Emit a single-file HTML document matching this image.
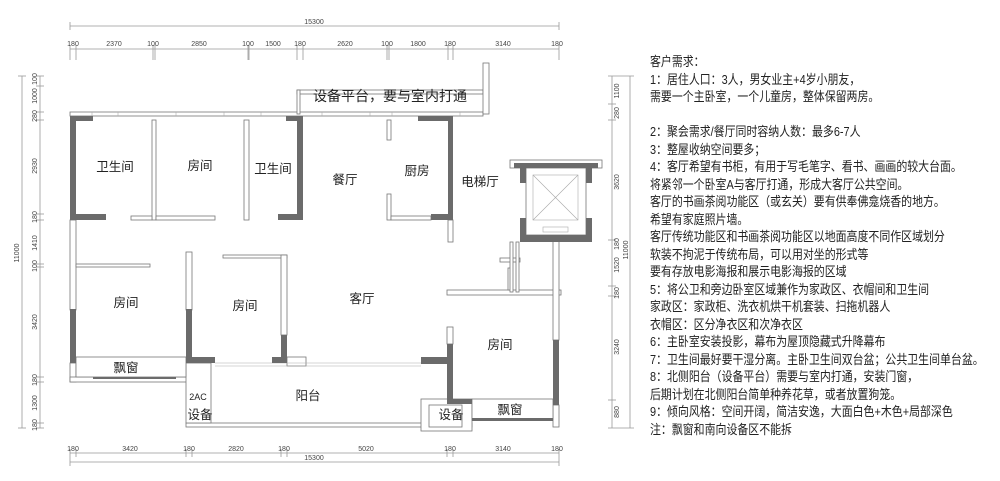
<!DOCTYPE html>
<html><head><meta charset="utf-8"><style>
body{margin:0;background:#fff;width:1000px;height:481px;overflow:hidden;position:relative;font-family:"Liberation Sans","Noto Sans CJK SC",sans-serif}
svg{position:absolute;left:0;top:0}
.t{position:absolute;left:650px;top:53px;font-size:13px;line-height:17.5px;color:#222;transform:scaleX(0.84);transform-origin:0 0;white-space:nowrap;font-family:"Liberation Sans","Noto Sans CJK SC",sans-serif}
</style></head><body>
<svg width="1000" height="481" viewBox="0 0 1000 481" font-family="Liberation Sans, Noto Sans CJK SC, sans-serif">
<g stroke="#999" stroke-width="0.8" fill="none">
<line x1="70" y1="26" x2="559" y2="26"/>
<line x1="70" y1="49" x2="559" y2="49"/>
<line x1="70" y1="453" x2="559" y2="453"/>
<line x1="70" y1="462" x2="559" y2="462"/>
<line x1="22" y1="76" x2="22" y2="428"/>
<line x1="40" y1="76" x2="40" y2="428"/>
<line x1="630" y1="76" x2="630" y2="428"/>
<line x1="612" y1="76" x2="612" y2="428"/>
</g>
<g stroke="#999" stroke-width="0.8">
<line x1="70" y1="22" x2="70" y2="30"/><line x1="559" y1="22" x2="559" y2="30"/>
<g><line x1="70" y1="45" x2="70" y2="60"/><line x1="76" y1="45" x2="76" y2="60"/><line x1="153" y1="45" x2="153" y2="60"/><line x1="155" y1="45" x2="155" y2="60"/><line x1="248" y1="45" x2="248" y2="60"/><line x1="249" y1="45" x2="249" y2="60"/><line x1="297" y1="45" x2="297" y2="60"/><line x1="303" y1="45" x2="303" y2="60"/><line x1="387" y1="45" x2="387" y2="60"/><line x1="389" y1="45" x2="389" y2="60"/><line x1="448" y1="45" x2="448" y2="60"/><line x1="453" y1="45" x2="453" y2="60"/><line x1="559" y1="45" x2="559" y2="60"/></g>
<line x1="70" y1="449" x2="70" y2="466"/><line x1="76" y1="449" x2="76" y2="457"/><line x1="186" y1="449" x2="186" y2="457"/><line x1="192" y1="449" x2="192" y2="457"/><line x1="281" y1="449" x2="281" y2="457"/><line x1="287" y1="449" x2="287" y2="457"/><line x1="447" y1="449" x2="447" y2="457"/><line x1="453" y1="449" x2="453" y2="457"/><line x1="559" y1="449" x2="559" y2="466"/>
<g><line x1="36" y1="76" x2="44" y2="76"/><line x1="36" y1="86" x2="44" y2="86"/><line x1="36" y1="112" x2="44" y2="112"/><line x1="36" y1="120" x2="44" y2="120"/><line x1="36" y1="214" x2="44" y2="214"/><line x1="36" y1="220" x2="44" y2="220"/><line x1="36" y1="264" x2="44" y2="264"/><line x1="36" y1="267" x2="44" y2="267"/><line x1="36" y1="377" x2="44" y2="377"/><line x1="36" y1="382" x2="44" y2="382"/><line x1="36" y1="423" x2="44" y2="423"/><line x1="36" y1="428" x2="44" y2="428"/><line x1="18" y1="76" x2="26" y2="76"/><line x1="18" y1="428" x2="26" y2="428"/></g>
<g><line x1="608" y1="76" x2="634" y2="76"/><line x1="608" y1="104" x2="616" y2="104"/><line x1="608" y1="120" x2="616" y2="120"/><line x1="608" y1="240" x2="616" y2="240"/><line x1="608" y1="286" x2="616" y2="286"/><line x1="608" y1="296" x2="616" y2="296"/><line x1="608" y1="400" x2="616" y2="400"/><line x1="608" y1="428" x2="634" y2="428"/></g>
</g>
<g font-size="7" fill="#444" text-anchor="middle">
<text x="314" y="24">15300</text>
<text x="73" y="46">180</text><text x="114" y="46">2370</text><text x="153" y="46">100</text><text x="199" y="46">2850</text><text x="248" y="46">100</text><text x="273" y="46">1500</text><text x="300" y="46">180</text><text x="345" y="46">2620</text><text x="387" y="46">100</text><text x="418" y="46">1800</text><text x="450" y="46">180</text><text x="503" y="46">3140</text><text x="557" y="46">180</text>
<text x="73" y="451">180</text><text x="130" y="451">3420</text><text x="189" y="451">180</text><text x="236" y="451">2820</text><text x="284" y="451">180</text><text x="366" y="451">5020</text><text x="450" y="451">180</text><text x="503" y="451">3140</text><text x="557" y="451">180</text>
<text x="314" y="460">15300</text>
<g transform="rotate(-90)">
<text x="-253" y="19">11000</text>
<text x="-79" y="37">100</text><text x="-96" y="37">1000</text><text x="-116" y="37">280</text><text x="-166" y="37">2930</text><text x="-217" y="37">180</text><text x="-243" y="37">1410</text><text x="-266" y="37">100</text><text x="-322" y="37">3420</text><text x="-380" y="37">180</text><text x="-403" y="37">1300</text><text x="-425" y="37">180</text>
<text x="-91" y="619">1100</text><text x="-113" y="619">280</text><text x="-182" y="619">3620</text><text x="-244" y="619">180</text><text x="-265" y="619">1520</text><text x="-293" y="619">180</text><text x="-347" y="619">3240</text><text x="-412" y="619">880</text>
<text x="-250" y="628">11000</text>
</g>
</g>
<g fill="#fff" stroke="#777" stroke-width="0.8">
<rect x="70" y="112" width="413" height="4"/>
<rect x="297" y="90" width="186" height="4"/>
<rect x="297" y="90" width="3" height="24"/>
<rect x="483" y="63" width="6" height="51"/>
<rect x="152" y="120" width="4" height="100"/>
<rect x="156" y="216" width="59" height="4"/>
<rect x="131" y="216" width="21" height="4"/>
<rect x="244" y="120" width="5" height="100"/>
<rect x="387" y="120" width="4" height="20"/>
<rect x="387" y="194" width="4" height="26"/>
<rect x="391" y="216" width="40" height="4"/>
<rect x="448" y="220" width="5" height="22"/>
<rect x="70" y="220" width="6" height="90"/>
<rect x="76" y="264" width="74" height="3"/>
<rect x="186" y="252" width="6" height="58"/>
<rect x="223" y="255" width="64" height="3"/>
<rect x="281" y="255" width="6" height="80"/>
<rect x="287" y="357" width="19" height="9"/>
<rect x="70" y="363" width="6" height="19"/>
<rect x="70" y="377" width="122" height="5"/>
<rect x="447" y="327" width="6" height="17"/>
<rect x="447" y="290" width="114" height="5"/>
<rect x="508" y="268" width="3" height="22"/>
<rect x="553" y="240" width="6" height="100"/>
<rect x="553" y="405" width="6" height="22"/>
<rect x="186" y="423" width="286" height="4"/>
<rect x="186" y="363" width="25" height="60"/>
<rect x="421" y="399" width="51" height="32"/>
<rect x="429" y="405" width="33" height="22"/>
<rect x="472" y="399" width="81" height="21"/>
<rect x="76" y="357" width="110" height="20"/>
<rect x="510" y="160" width="92" height="8"/>
<rect x="526" y="168" width="60" height="67"/>
<rect x="500" y="258" width="20" height="4"/>
<rect x="510" y="242" width="3" height="50"/>
<rect x="516" y="242" width="3" height="50"/>
</g>
<g stroke="#aaa" stroke-width="0.6" fill="none">
<line x1="215" y1="363" x2="421" y2="363"/><line x1="215" y1="366" x2="421" y2="366"/>
<line x1="533" y1="175" x2="578" y2="220"/><line x1="578" y1="175" x2="533" y2="220"/>
<rect x="533" y="175" width="45" height="45"/><rect x="543" y="227" width="25" height="5"/>
<line x1="92" y1="112" x2="92" y2="116"/><line x1="118" y1="112" x2="118" y2="116"/><line x1="176" y1="112" x2="176" y2="116"/><line x1="224" y1="112" x2="224" y2="116"/><line x1="261" y1="112" x2="261" y2="116"/><line x1="322" y1="112" x2="322" y2="116"/><line x1="370" y1="112" x2="370" y2="116"/><line x1="392" y1="112" x2="392" y2="116"/><line x1="460" y1="112" x2="460" y2="116"/>
</g>
<g fill="#6b6b6b">
<rect x="70" y="116" width="6" height="104"/><rect x="70" y="116" width="23" height="5"/><rect x="70" y="214" width="36" height="6"/>
<rect x="297" y="116" width="6" height="104"/><rect x="286" y="116" width="17" height="5"/><rect x="278" y="214" width="25" height="6"/>
<rect x="448" y="116" width="5" height="104"/><rect x="418" y="116" width="35" height="5"/><rect x="431" y="214" width="22" height="6"/>
<rect x="514" y="163" width="84" height="5"/>
<rect x="520" y="168" width="6" height="15"/><rect x="586" y="168" width="6" height="15"/><rect x="520" y="218" width="6" height="24"/><rect x="586" y="218" width="6" height="24"/><rect x="520" y="235" width="72" height="7"/>
<rect x="70" y="309" width="6" height="54"/><rect x="186" y="309" width="6" height="54"/><rect x="186" y="357" width="29" height="6"/><rect x="93" y="377" width="83" height="2"/>
<rect x="281" y="335" width="6" height="28"/><rect x="272" y="357" width="15" height="6"/>
<rect x="421" y="357" width="32" height="7"/><rect x="447" y="344" width="6" height="60"/><rect x="447" y="399" width="25" height="5"/>
<rect x="553" y="340" width="6" height="65"/><rect x="472" y="418" width="81" height="3"/>
</g>
<g font-size="12.5" fill="#222" text-anchor="middle">
<text x="390" y="101" font-size="14">设备平台，要与室内打通</text>
<text x="115" y="171">卫生间</text><text x="200" y="170">房间</text><text x="273" y="173">卫生间</text><text x="345" y="184">餐厅</text><text x="417" y="175">厨房</text><text x="480" y="186">电梯厅</text>
<text x="126" y="307">房间</text><text x="245" y="310">房间</text><text x="362" y="303">客厅</text><text x="500" y="349">房间</text>
<text x="126" y="372">飘窗</text><text x="510" y="414">飘窗</text><text x="308" y="400">阳台</text>
<text x="198" y="400" font-size="9">2AC</text><text x="200" y="419">设备</text><text x="451" y="419">设备</text>
</g>
</svg>
<div class="t">客户需求：<br>1：居住人口：3人，男女业主+4岁小朋友，<br>需要一个主卧室，一个儿童房，整体保留两房。<br><br>2：聚会需求/餐厅同时容纳人数：最多6-7人<br>3：整屋收纳空间要多；<br>4：客厅希望有书柜，有用于写毛笔字、看书、画画的较大台面。<br>将紧邻一个卧室A与客厅打通，形成大客厅公共空间。<br>客厅的书画茶阅功能区（或玄关）要有供奉佛龛烧香的地方。<br>希望有家庭照片墙。<br>客厅传统功能区和书画茶阅功能区以地面高度不同作区域划分<br>软装不拘泥于传统布局，可以用对坐的形式等<br>要有存放电影海报和展示电影海报的区域<br>5：将公卫和旁边卧室区域兼作为家政区、衣帽间和卫生间<br>家政区：家政柜、洗衣机烘干机套装、扫拖机器人<br>衣帽区：区分净衣区和次净衣区<br>6：主卧室安装投影，幕布为屋顶隐藏式升降幕布<br>7：卫生间最好要干湿分离。主卧卫生间双台盆；公共卫生间单台盆。<br>8：北侧阳台（设备平台）需要与室内打通，安装门窗，<br>后期计划在北侧阳台简单种养花草，或者放置狗笼。<br>9：倾向风格：空间开阔，简洁安逸，大面白色+木色+局部深色<br>注：飘窗和南向设备区不能拆</div>
</body></html>
